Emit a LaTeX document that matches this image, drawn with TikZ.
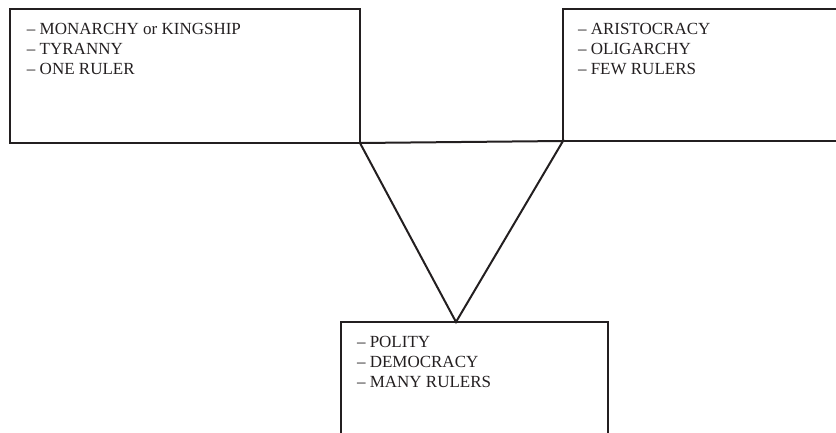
\documentclass[tikz,border=0pt]{standalone}
\usepackage{fontspec}
\setmainfont{Liberation Serif}
\usepackage{tikz}
\usetikzlibrary{positioning}
\definecolor{ink}{HTML}{231F20}

\begin{document}
\begin{tikzpicture}[x=1pt, y=1pt,
  every node/.style={inner sep=0pt, outer sep=0pt},
  box/.style={draw=ink, line width=1.3pt, anchor=north west},
  rulers/.style={align=left, text=ink, font=\fontsize{17}{20}\selectfont}]
  \useasboundingbox (0,0) rectangle (836,432);
  \clip (0,0) rectangle (836,432);

  \node[box, minimum width=350pt, minimum height=134pt]  (one)  at (10,423) {};
  \node[box, minimum width=340pt, minimum height=132pt]  (few)  at (563,423) {};
  \node[box, minimum width=267pt, minimum height=150pt]  (many) at (341,110) {};
  \coordinate (apex) at (456,110);

  \node[rulers, below right = 14pt and 17pt of one.north west]  (t1)
    {-- MONARCHY or KINGSHIP\\-- TYRANNY\\-- ONE RULER};
  \node[rulers, below right = 14pt and 15pt of few.north west]  (t2)
    {-- ARISTOCRACY\\-- OLIGARCHY\\-- FEW RULERS};
  \node[rulers, below right = 14pt and 16pt of many.north west] (t3)
    {-- POLITY\\-- DEMOCRACY\\-- MANY RULERS};

  \draw[ink, line width=2pt, line join=miter] (one.south east) -- (few.south west) -- (apex) -- cycle;
\end{tikzpicture}
\end{document}
